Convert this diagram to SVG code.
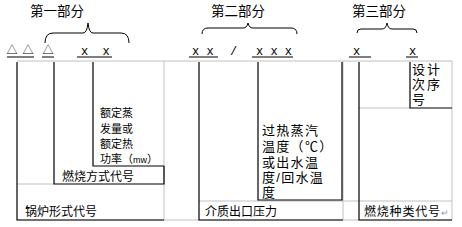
<svg xmlns="http://www.w3.org/2000/svg" width="462" height="227" viewBox="0 0 462 227">
<style>
.t{font-family:"Liberation Sans","Noto Sans CJK SC",sans-serif;font-size:12px;fill:#000}
.h{font-family:"Liberation Sans","Noto Sans CJK SC",sans-serif;font-size:13.5px;fill:#000}
.m{font-family:"Liberation Mono",monospace;font-size:12px;fill:#000}
.tri{font-family:"Noto Sans CJK SC",sans-serif;font-size:11px;fill:#000}
.g{stroke:#c0c0c0;stroke-width:1;fill:none}
.k{stroke:#000;stroke-width:1.2;fill:none}
.b{stroke:#000;stroke-width:1;fill:none}
</style>
<rect width="462" height="227" fill="#fff"/>
<g id="grid">
<path class="g" d="M17 61H452M164 61V220M343 61V220M452 61V220M17 184H54M199 201H452M358 108H410M17 220H452"/>
</g>
<g id="headers">
<text class="h" x="30" y="16">第一部分</text>
<text class="h" x="211" y="16">第二部分</text>
<text class="h" x="352" y="16">第三部分</text>
<path class="b" d="M45 43Q45 33 53 33H83Q87 33 88 23Q89 33 93 33H121Q129 33 129 43"/>
<path class="b" d="M202 34Q202 28 208 28H243Q247 28 248 23Q249 28 253 28H291Q297 28 297 34"/>
<path class="b" d="M357 33Q357 29 361 29H382Q386 29 387 23Q388 29 392 29H413Q417 29 417 33"/>
</g>
<g id="codes">
<text class="tri" x="6.5" y="54" style="letter-spacing:5px">△△</text>
<text class="tri" x="42.5" y="54">△</text>
<text class="m" x="81" y="55" xml:space="preserve">x  x</text>
<text class="m" x="192" y="55">x x</text>
<text class="m" x="230" y="55">/</text>
<text class="m" x="256" y="55">x x x</text>
<text class="m" x="353" y="55">x</text>
<text class="m" x="409" y="55">x</text>
</g>
<g id="connectors">
<path class="k" d="M7 57H34M42 57H54M77 57H112M189 57H218M252 57H293M349 57H371M406 57H418"/>
<path class="k" d="M17 62V220H164M54 62V184H164V166M93 62V166H164M199 62V220H343M258 62V200H342V62M359 62V220H452M410 62V108H452"/>
</g>
<g id="node-rated">
<text class="t" x="100" y="117" style="font-size:11px">额定蒸</text>
<text class="t" x="100" y="132.5" style="font-size:11px">发量或</text>
<text class="t" x="100" y="148" style="font-size:11px">额定热</text>
<text class="t" x="100" y="163" style="font-size:11px">功率（<tspan style="font-size:9px">mw</tspan>）</text>
</g>
<g id="node-burn">
<text class="t" x="62" y="181">燃烧方式代号</text>
</g>
<g id="node-type">
<text class="t" x="25" y="216">锅炉形式代号</text>
</g>
<g id="node-temp" style="letter-spacing:1.3px">
<text class="t" x="262" y="135" style="font-size:13px">过热蒸汽</text>
<text class="t" x="262" y="151" style="font-size:13px">温度（℃）</text>
<text class="t" x="262" y="166.5" style="font-size:13px">或出水温</text>
<text class="t" x="262" y="182" style="font-size:13px">度/回水温</text>
<text class="t" x="262" y="197" style="font-size:13px">度</text>
</g>
<g id="node-pressure">
<text class="t" x="205" y="216">介质出口压力</text>
</g>
<g id="node-seq" style="letter-spacing:2px">
<text class="t" x="412" y="74" style="font-size:13px">设计</text>
<text class="t" x="412" y="89" style="font-size:13px">次序</text>
<text class="t" x="412" y="104" style="font-size:13px">号</text>
</g>
<g id="node-fuel">
<text class="t" x="364" y="216" style="letter-spacing:0.8px">燃烧种类代号<tspan style="font-size:9px;fill:#999;letter-spacing:0">↵</tspan></text>
</g>
</svg>
